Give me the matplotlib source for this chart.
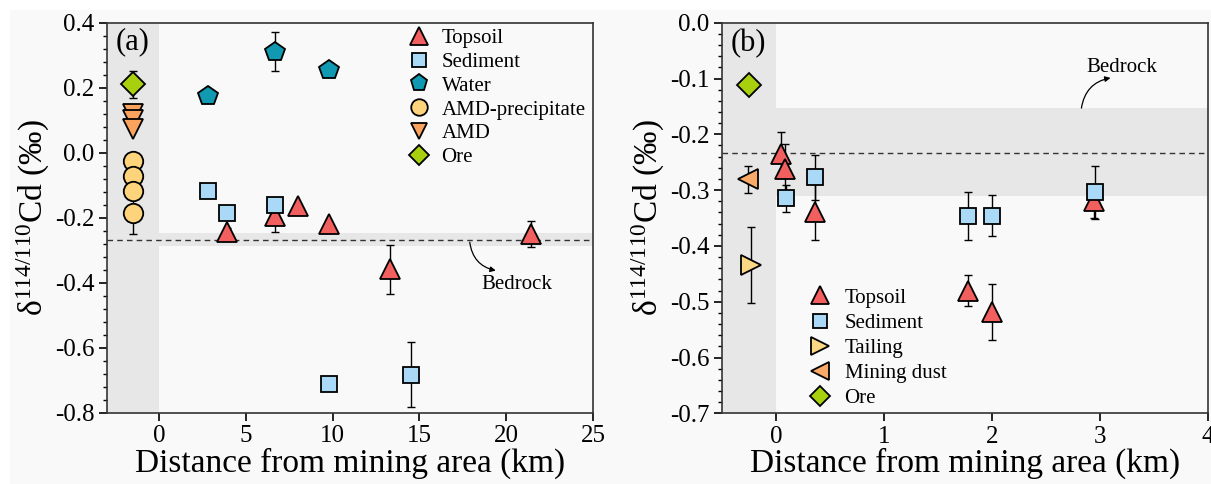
import matplotlib
matplotlib.use("Agg")
import matplotlib.pyplot as plt
from matplotlib.patches import Rectangle

plt.rcParams['font.family'] = ['Liberation Serif', 'DejaVu Serif']
plt.rcParams['mathtext.fontset'] = 'custom'
plt.rcParams['mathtext.rm'] = 'Liberation Serif'
plt.rcParams['mathtext.it'] = 'Liberation Serif:italic'
plt.rcParams['axes.unicode_minus'] = False

# ---- panel (a) data ----
topsoil_a_x = [3.9, 6.7, 8.0, 9.8, 13.3, 21.4]
topsoil_a_y = [-0.245, -0.195, -0.163, -0.22, -0.358, -0.25]
topsoil_a_err = [0.015, 0.05, 0.0, 0.0, 0.075, 0.04]

sediment_a_x = [2.8, 3.9, 6.7, 9.8, 14.5]
sediment_a_y = [-0.118, -0.185, -0.159, -0.712, -0.682]
sediment_a_err = [0.0, 0.0, 0.0, 0.0, 0.1]

water_a_x = [2.8, 6.7, 9.8]
water_a_y = [0.174, 0.31, 0.256]
water_a_err = [0.0, 0.06, 0.0]

amdp_a_x = [-1.5, -1.5, -1.5, -1.5]
amdp_a_y = [-0.026, -0.072, -0.118, -0.185]
amdp_a_err = [0.026, 0.0, 0.0, 0.065]

amd_a_x = [-1.5, -1.5, -1.5]
amd_a_y = [0.12, 0.10, 0.072]
amd_a_err = [0.0, 0.0, 0.0]

ore_a_x = [-1.5]
ore_a_y = [0.21]
ore_a_err = [0.04]

bedrock_a = -0.267
bedrock_a_band = (-0.287, -0.246)

# ---- panel (b) data ----
topsoil_b_x = [0.05, 0.08, 0.36, 1.78, 2.0, 2.95]
topsoil_b_y = [-0.235, -0.263, -0.339, -0.48, -0.518, -0.32]
topsoil_b_err = [0.04, 0.045, 0.05, 0.027, 0.05, 0.03]

sediment_b_x = [0.09, 0.36, 1.78, 2.0, 2.96]
sediment_b_y = [-0.315, -0.277, -0.346, -0.346, -0.304]
sediment_b_err = [0.025, 0.04, 0.043, 0.037, 0.047]

tailing_b_x = [-0.23]
tailing_b_y = [-0.434]
tailing_b_err = [0.068]

dust_b_x = [-0.26]
dust_b_y = [-0.281]
dust_b_err = [0.025]

ore_b_x = [-0.25]
ore_b_y = [-0.111]
ore_b_err = [0.01]

bedrock_b = -0.233
bedrock_b_band = (-0.311, -0.153)

c_topsoil = '#f25f5f'
c_sediment = '#a9d9f6'
c_water = '#1199b2'
c_amdp = '#fdd47c'
c_amd = '#f9a35e'
c_ore = '#a8d00f'
c_tailing = '#fdd884'
c_dust = '#f9aa68'

bg = '#f9f9f9'
shade = '#e7e7e7'


def draw(ax, x, y, err, marker, color, size, label):
    ax.errorbar(x, y, yerr=err, fmt='none', ecolor='black', elinewidth=1.0,
                capsize=3, capthick=1.0, zorder=3)
    ax.plot(x, y, linestyle='none', marker=marker, markersize=size,
            markerfacecolor=color, markeredgecolor='black',
            markeredgewidth=1.3, zorder=4, label=label)


def style(ax):
    ax.set_facecolor(bg)
    ax.tick_params(axis='both', which='major', direction='out', length=6,
                   width=1.2, labelsize=18, top=False, right=False, pad=3)
    ax.tick_params(axis='y', which='minor', direction='out', length=3,
                   width=1.0, right=False)
    for sp in ax.spines.values():
        sp.set_linewidth(1.2)
        sp.set_color('#333333')
    ax.set_xlabel('Distance from mining area (km)', fontsize=24, labelpad=0)
    ax.set_ylabel('δ$^{114/110}$Cd (‰)', fontsize=24, labelpad=2)


fig = plt.figure(figsize=(12.11, 4.84), dpi=100)
fig.patch.set_facecolor('white')
fig.patches.append(Rectangle((10 / 1211, 0), 1, 1 - 10 / 484, transform=fig.transFigure,
                             facecolor=bg, edgecolor='none', zorder=-1))

ax1 = fig.add_axes([107 / 1211, 1 - 413 / 484, (593 - 107) / 1211, (413 - 22.7) / 484])
ax2 = fig.add_axes([722 / 1211, 1 - 413.3 / 484, (1207.7 - 722) / 1211, (413.3 - 22.7) / 484])

# ---- panel (a) ----
ax1.set_xlim(-3, 25)
ax1.set_ylim(-0.8, 0.4)
ax1.axvspan(-3, 0, color=shade, zorder=0, lw=0)
ax1.fill_between([0, 25], bedrock_a_band[0], bedrock_a_band[1], color=shade, zorder=0, lw=0)
ax1.axhline(bedrock_a, color='#333333', linestyle=(0, (4, 3)), lw=1.0, zorder=1)

draw(ax1, topsoil_a_x, topsoil_a_y, topsoil_a_err, '^', c_topsoil, 15, 'Topsoil')
draw(ax1, sediment_a_x, sediment_a_y, sediment_a_err, 's', c_sediment, 11.5, 'Sediment')
draw(ax1, water_a_x, water_a_y, water_a_err, 'p', c_water, 15, 'Water')
draw(ax1, amdp_a_x, amdp_a_y, amdp_a_err, 'o', c_amdp, 14, 'AMD-precipitate')
draw(ax1, amd_a_x, amd_a_y, amd_a_err, 'v', c_amd, 14, 'AMD')
draw(ax1, ore_a_x, ore_a_y, ore_a_err, 'D', c_ore, 12, 'Ore')

ax1.set_xticks([0, 5, 10, 15, 20, 25])
ax1.set_yticks([-0.8, -0.6, -0.4, -0.2, 0.0, 0.2, 0.4])
ax1.set_yticks([i * 0.04 - 0.8 for i in range(31)], minor=True)
ax1.yaxis.set_major_formatter(matplotlib.ticker.FormatStrFormatter('%.1f'))
style(ax1)

ax1.text(-2.5, 0.385, '(a)', fontsize=22, va='top', ha='left')
ax1.annotate('', xy=(19.4, -0.362), xytext=(17.9, -0.275),
             arrowprops=dict(arrowstyle='-|>', color='black', lw=0.9,
                             connectionstyle='arc3,rad=0.35', mutation_scale=8,
                             shrinkA=0, shrinkB=0))
ax1.text(20.6, -0.405, 'Bedrock', fontsize=15, ha='center', va='center')

ax1.legend(loc='upper right', bbox_to_anchor=(1.015, 1.022), frameon=False, fontsize=15,
           handletextpad=0.5, labelspacing=0.2, borderaxespad=0.3,
           handlelength=1.2, markerscale=0.85)

# ---- panel (b) ----
ax2.set_xlim(-0.5, 4)
ax2.set_ylim(-0.7, 0.0)
ax2.axvspan(-0.5, 0, color=shade, zorder=0, lw=0)
ax2.fill_between([0, 4], bedrock_b_band[0], bedrock_b_band[1], color=shade, zorder=0, lw=0)
ax2.axhline(bedrock_b, color='#333333', linestyle=(0, (4, 3)), lw=1.0, zorder=1)

draw(ax2, topsoil_b_x, topsoil_b_y, topsoil_b_err, '^', c_topsoil, 15, 'Topsoil')
draw(ax2, sediment_b_x, sediment_b_y, sediment_b_err, 's', c_sediment, 12, 'Sediment')
draw(ax2, tailing_b_x, tailing_b_y, tailing_b_err, '>', c_tailing, 15, 'Tailing')
draw(ax2, dust_b_x, dust_b_y, dust_b_err, '<', c_dust, 15, 'Mining dust')
draw(ax2, ore_b_x, ore_b_y, ore_b_err, 'D', c_ore, 12, 'Ore')

ax2.set_xticks([0, 1, 2, 3, 4])
ax2.set_yticks([-0.7, -0.6, -0.5, -0.4, -0.3, -0.2, -0.1, 0.0])
ax2.set_yticks([i * 0.02 - 0.7 for i in range(36)], minor=True)
ax2.yaxis.set_major_formatter(matplotlib.ticker.FormatStrFormatter('%.1f'))
style(ax2)

ax2.text(-0.42, -0.012, '(b)', fontsize=22, va='top', ha='left')
ax2.annotate('', xy=(3.10, -0.099), xytext=(2.83, -0.153),
             arrowprops=dict(arrowstyle='-|>', color='black', lw=0.9,
                             connectionstyle='arc3,rad=-0.35', mutation_scale=8,
                             shrinkA=0, shrinkB=0))
ax2.text(3.2, -0.081, 'Bedrock', fontsize=15, ha='center', va='center')

ax2.legend(loc='lower left', bbox_to_anchor=(0.145, -0.025), frameon=False, fontsize=15,
           handletextpad=0.6, labelspacing=0.27, borderaxespad=0.3,
           handlelength=1.2, markerscale=0.85)

fig.savefig('out.png', dpi=100, facecolor=fig.get_facecolor())
